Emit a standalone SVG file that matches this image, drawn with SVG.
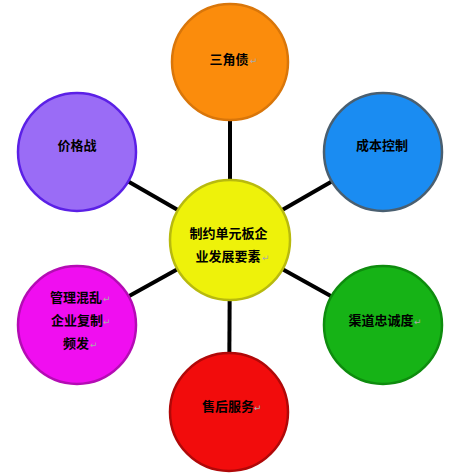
<svg xmlns="http://www.w3.org/2000/svg" width="455" height="474" viewBox="0 0 455 474">
<style>
.node{stroke-width:2.5}
.lbl{font-family:"Noto Sans CJK SC","Noto Sans",sans-serif;font-size:13px;font-weight:700;fill:#000;text-anchor:middle}
.pm{font-family:"DejaVu Sans",sans-serif;font-size:9px;fill:#aaaaaa}
.conn{stroke:#000;stroke-width:4;fill:none}
</style>
<rect width="455" height="474" fill="#fff"/>
<g id="connectors">
<line class="conn" x1="230" y1="240" x2="230" y2="62"/>
<line class="conn" x1="230" y1="240" x2="77" y2="152"/>
<line class="conn" x1="230" y1="240" x2="383" y2="152"/>
<line class="conn" x1="230" y1="240" x2="77" y2="325"/>
<line class="conn" x1="230" y1="240" x2="383" y2="325"/>
<line class="conn" x1="230" y1="240" x2="229" y2="412"/>
</g>
<g id="node-sanjiaozhai">
<circle class="node" cx="230" cy="62" r="58" fill="#fb8c0c" stroke="#d9760a"/>
<text class="lbl" x="229" y="64">三角债</text>
<text class="pm" x="250" y="64">↵</text>
</g>
<g id="node-jiagezhan">
<circle class="node" cx="77" cy="152" r="59" fill="#9a6cf6" stroke="#5b20e6"/>
<text class="lbl" x="77" y="150">价格战</text>
</g>
<g id="node-chengben">
<circle class="node" cx="383" cy="152" r="59" fill="#1a8cf2" stroke="#4a5f70"/>
<text class="lbl" x="382" y="150">成本控制</text>
</g>
<g id="node-center">
<circle class="node" cx="230" cy="240" r="60" fill="#eef20a" stroke="#b8ba0e"/>
<text class="lbl" x="228.5" y="238">制约单元板企</text>
<text class="lbl" x="228" y="261">业发展要素</text>
<text class="pm" x="262" y="261">↵</text>
</g>
<g id="node-guanli">
<circle class="node" cx="77" cy="325" r="59" fill="#f00ef0" stroke="#b40cb4"/>
<text class="lbl" x="76" y="302">管理混乱</text>
<text class="pm" x="103" y="302">↵</text>
<text class="lbl" x="77" y="325">企业复制</text>
<text class="pm" x="103" y="325">↵</text>
<text class="lbl" x="76" y="348">频发</text>
<text class="pm" x="90" y="348">↵</text>
</g>
<g id="node-qudao">
<circle class="node" cx="383" cy="325" r="59" fill="#16b316" stroke="#0e8c0e"/>
<text class="lbl" x="381" y="325">渠道忠诚度</text>
<text class="pm" x="414" y="325">↵</text>
</g>
<g id="node-shouhou">
<circle class="node" cx="229" cy="412" r="59" fill="#f20c0c" stroke="#b00808"/>
<text class="lbl" x="228" y="411">售后服务</text>
<text class="pm" x="254" y="411">↵</text>
</g>
</svg>
